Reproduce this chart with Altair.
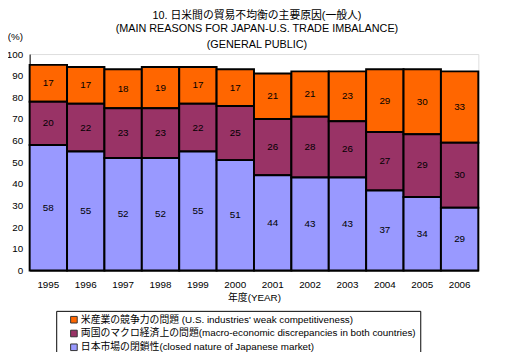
import altair as alt
import pandas as pd

years = ["1995", "1996", "1997", "1998", "1999", "2000", "2001", "2002", "2003", "2004", "2005", "2006"]
closed = [58, 55, 52, 52, 55, 51, 44, 43, 43, 37, 34, 29]
macro = [20, 22, 23, 23, 22, 25, 26, 28, 26, 27, 29, 30]
weak = [17, 17, 18, 19, 17, 17, 21, 21, 23, 29, 30, 33]

series_names = [
    "米産業の競争力の問題 (U.S. industries' weak competitiveness)",
    "両国のマクロ経済上の問題(macro-economic discrepancies in both countries)",
    "日本市場の閉鎖性(closed nature of Japanese market)",
]
colors = ["#FF6600", "#993366", "#9999FF"]
stack_order = [3, 2, 1]

title_lines = ["10. 日米間の貿易不均衡の主要原因(一般人)",
               "(MAIN REASONS FOR JAPAN-U.S. TRADE IMBALANCE)",
               "(GENERAL PUBLIC)"]

rows = []
for i, y in enumerate(years):
    for s, vals in enumerate([weak, macro, closed]):
        rows.append({"year": y, "series": series_names[s], "value": vals[i], "ord": stack_order[s]})
df = pd.DataFrame(rows)

FONT = "Liberation Sans, Noto Sans CJK JP"

base = alt.Chart(df).transform_stack(
    stack="value", groupby=["year"], as_=["y0", "y1"], sort=[alt.SortField("ord", order="ascending")]
).transform_calculate(mid="(datum.y0 + datum.y1) / 2")

x_axis = alt.Axis(labelAngle=0, ticks=False, domain=True, domainColor="black",
                  labelFont=FONT, labelFontSize=10, labelPadding=9,
                  titleFont=FONT, titleFontSize=10, titleFontWeight="normal", titlePadding=3)
y_axis = alt.Axis(values=list(range(0, 101, 10)), ticks=False, grid=False, labelOverlap=False,
                  domainColor="black", labelFont=FONT, labelFontSize=10, labelPadding=7,
                  titleAngle=0, titleFont=FONT, titleFontSize=10, titleFontWeight="normal",
                  titleX=-15, titleY=-18, titleAlign="center", titleBaseline="middle")
y_scale = alt.Scale(domain=[0, 100], nice=False)
x_scale = alt.Scale(paddingInner=0, paddingOuter=0)

bars = base.mark_bar(stroke="black", strokeWidth=2).encode(
    x=alt.X("year:N", title="年度(YEAR)", scale=x_scale, axis=x_axis),
    y=alt.Y("y0:Q", scale=y_scale, title="(%)", axis=y_axis),
    y2="y1:Q",
    color=alt.Color("series:N", scale=alt.Scale(domain=series_names, range=colors),
                    legend=alt.Legend(title=None, orient="none", legendX=27, legendY=261,
                                      direction="vertical", symbolType="square", symbolSize=45,
                                      symbolStrokeColor="#333333", symbolStrokeWidth=1,
                                      symbolOffset=9,
                                      labelFont=FONT, labelFontSize=10, labelLimit=400,
                                      strokeColor="black", padding=4, rowPadding=2,
                                      labelOffset=2)),
)

labels = base.mark_text(font=FONT, fontSize=10, color="black").encode(
    x=alt.X("year:N", title="年度(YEAR)", scale=x_scale, axis=x_axis),
    y=alt.Y("mid:Q", scale=y_scale, title="(%)", axis=y_axis),
    text="value:Q",
)

title_df = pd.DataFrame({"line": title_lines, "k": [0, 1, 2]})
title_ys = [-39, -25, -9]
titles = [
    alt.Chart(title_df).transform_filter(f"datum.k == {k}").mark_text(
        x=231, y=ty, font=FONT, fontSize=11, color="black", align="center", baseline="middle"
    ).encode(text="line:N")
    for k, ty in enumerate(title_ys)
]

chart = alt.layer(bars, labels, *titles).properties(
    width=456, height=220,
    autosize=alt.AutoSizeParams(type="none"),
    padding={"left": 22, "top": 44, "right": 20, "bottom": 80},
).configure_view(stroke="#999999").configure(background="white")

chart.save("out.html", embed_options={"renderer": "svg", "actions": False})
